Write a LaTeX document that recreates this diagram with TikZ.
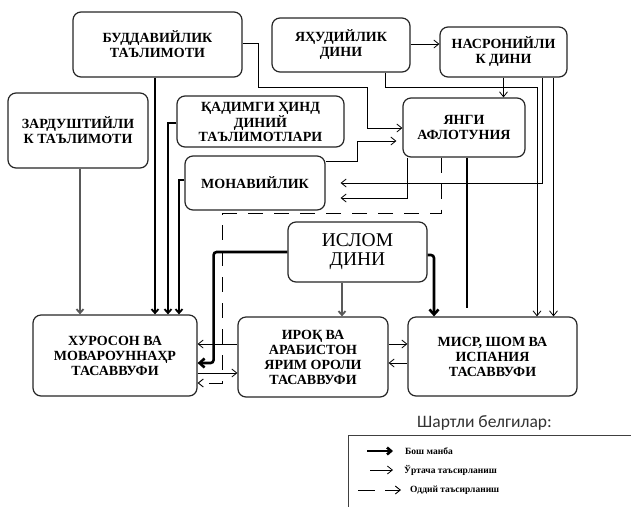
\documentclass[tikz,border=0pt]{standalone}
\usepackage{fontspec}
\setmainfont{Liberation Serif}
\newfontfamily\legfont{Carlito}
\usetikzlibrary{arrows.meta}
\begin{document}
\begin{tikzpicture}[x=1pt,y=-1pt,
  box/.style={draw=black!85, line width=1.2pt, rounded corners=8pt, fill=white, align=center,
    font=\bfseries\fontsize{14}{15}\selectfont, inner sep=0pt},
  conn/.style={line width=0.8pt, -{Straight Barb[length=5pt,width=8pt]}},
  midconn/.style={line width=1.8pt, -{Straight Barb[length=4pt,width=7pt]}},
  greyconn/.style={line width=1.8pt, draw=black!65, -{Straight Barb[length=4pt,width=7pt]}},
  mainconn/.style={line width=2.6pt, rounded corners=3pt, -{Straight Barb[length=5pt,width=9pt]}},
  dashconn/.style={line width=0.9pt, dash pattern=on 15pt off 11pt, -{Straight Barb[length=5pt,width=8pt]}},
  legtext/.style={anchor=west, font=\bfseries\fontsize{9.5}{10}\selectfont, inner sep=0pt}
]
\useasboundingbox (0,0) rectangle (631,507);

% boxes
\node[box, minimum width=169pt, minimum height=65pt] (budd) at (157.5,44.5) {БУДДАВИЙЛИК\\ТАЪЛИМОТИ};
\node[box, minimum width=138pt, minimum height=54pt] (yahud) at (341,45) {ЯҲУДИЙЛИК\\ДИНИ};
\node[box, minimum width=127pt, minimum height=50pt] (nasr) at (503.5,52) {НАСРОНИЙЛИ\\К ДИНИ};
\node[box, minimum width=122pt, minimum height=59pt] (yangi) at (464,127.5) {ЯНГИ\\АФЛОТУНИЯ};
\node[box, minimum width=140pt, minimum height=75pt] (zard) at (78,130.5) {ЗАРДУШТИЙЛИ\\К ТАЪЛИМОТИ};
\node[box, minimum width=167pt, minimum height=51pt, font=\bfseries\fontsize{14}{14}\selectfont] (qad) at (260.5,121.5) {ҚАДИМГИ ҲИНД\\ДИНИЙ\\ТАЪЛИМОТЛАРИ};
\node[box, minimum width=140pt, minimum height=54pt] (mon) at (255,183) {МОНАВИЙЛИК};
\node[box, minimum width=139pt, minimum height=60pt, font=\fontsize{19.5}{19}\selectfont] (islom) at (357.5,252) {ИСЛОМ\\ДИНИ};
\node[box, minimum width=164pt, minimum height=81pt] (khur) at (115,355.5) {ХУРОСОН ВА\\МОВАРОУННАҲР\\ТАСАВВУФИ};
\node[box, minimum width=150pt, minimum height=80pt] (iroq) at (313,357) {ИРОҚ ВА\\АРАБИСТОН\\ЯРИМ ОРОЛИ\\ТАСАВВУФИ};
\node[box, minimum width=169pt, minimum height=79pt] (misr) at (492.5,356.5) {МИСР, ШОМ ВА\\ИСПАНИЯ\\ТАСАВВУФИ};

% lines into Khuroson from above
\draw[greyconn] ([xshift=2pt]zard.south) -- ([xshift=-35pt]khur.north);
\draw[midconn] ([xshift=-2.5pt]budd.south) -- ([xshift=40pt]khur.north);
\draw[midconn] ([yshift=-1.5pt]qad.west) -| ([xshift=53pt]khur.north);
\draw[midconn] ([yshift=3pt]mon.west) -| ([xshift=64pt]khur.north);

% Buddaviylik -> Yangi Aflotuniya
\draw[conn] ([yshift=1.5pt]budd.east) -- ++(16,0) -- ++(0,44) -| ([xshift=-35pt,yshift=-0.5pt]yangi.west) -- ([yshift=-0.5pt]yangi.west);
% Yahudiylik -> Nasroniylik
\draw[conn] ([yshift=1pt]yahud.east) -- ([yshift=1pt]yahud.east -| nasr.west);
% Nasroniylik -> Yangi
\draw[conn] (nasr.south) -- (nasr.south |- yangi.north);
% Yahudiylik -> Misr
\draw[conn] ([xshift=44pt]yahud.south) -- ++(0,15) -| ([xshift=44.5pt]misr.north);
% Nasroniylik -> Misr
\draw[conn] ([xshift=50pt]nasr.south) -- ([xshift=61pt]misr.north);
% Nasroniylik -> Monaviylik
\draw[conn] ([xshift=38.5pt]nasr.south) |- ([xshift=15pt]mon.east);
% Yangi -> Monaviylik
\draw[conn] ([xshift=-57pt]yangi.south) |- ([xshift=15pt,yshift=-15pt]mon.east);
% Monaviylik -> Yangi
\draw[conn] ([yshift=22pt]mon.east) -- ++(32,0) |- ([xshift=-6pt,yshift=-13.5pt]yangi.west);
% Yangi -> Misr
\draw[line width=1.8pt] ([xshift=3pt]yangi.south) -- ([xshift=-25.5pt,yshift=8pt]misr.north);
% Yangi -> Khuroson (dashed)
\draw[dashconn] ([xshift=-23pt]yangi.south) -- ++(0,56) -| ([xshift=25pt,yshift=-27.5pt]khur.east) -- ([yshift=-27.5pt]khur.east);

% Islom
\draw[mainconn] (islom.west) -| ([xshift=16pt,yshift=-7.5pt]khur.east) -- ([yshift=-7.5pt]khur.east);
\draw[greyconn] ([xshift=-15.5pt]islom.south) -- ([xshift=-15.5pt]islom.south |- iroq.north);
\draw[mainconn] ([yshift=-3pt]islom.east) -| ([xshift=-58.5pt]misr.north);

% bottom row exchanges
\draw[conn] ([yshift=13pt]iroq.west) -- ([yshift=13pt]iroq.west -| khur.east);
\draw[conn] ([yshift=-17.5pt]khur.east) -- ([yshift=-17.5pt]khur.east -| iroq.west);
\draw[conn] ([yshift=13pt]iroq.east) -- ([yshift=13pt]iroq.east -| misr.west);
\draw[conn] ([yshift=-6.5pt]misr.west) -- ([yshift=-6.5pt]misr.west -| iroq.east);

% legend
\node[font=\legfont\fontsize{17.5}{18}\selectfont, text=black!80, inner sep=0pt] (legtitle) at (484.5,423) {Шартли белгилар:};
\draw[line width=1pt, draw=black!75] (631,435) -- (348,435) -- (348,507);
\coordinate (l1a) at (367,451); \coordinate (l1b) at (393,451);
\coordinate (l2a) at (370,470); \coordinate (l2b) at (393,470);
\coordinate (l3a) at (358,490); \coordinate (l3b) at (401,490);
\draw[line width=2.6pt, -{Straight Barb[length=4pt,width=7pt]}] (l1a) -- (l1b);
\draw[conn] (l2a) -- (l2b);
\draw[line width=0.9pt, dash pattern=on 17pt off 10pt, -{Straight Barb[length=5pt,width=8pt]}] (l3a) -- (l3b);
\node[legtext] (leg1) at (405,451) {Бош манба};
\node[legtext] (leg2) at (404,470) {Ўртача таъсирланиш};
\node[legtext] (leg3) at (410,490) {Оддий таъсирланиш};
\end{tikzpicture}
\end{document}
